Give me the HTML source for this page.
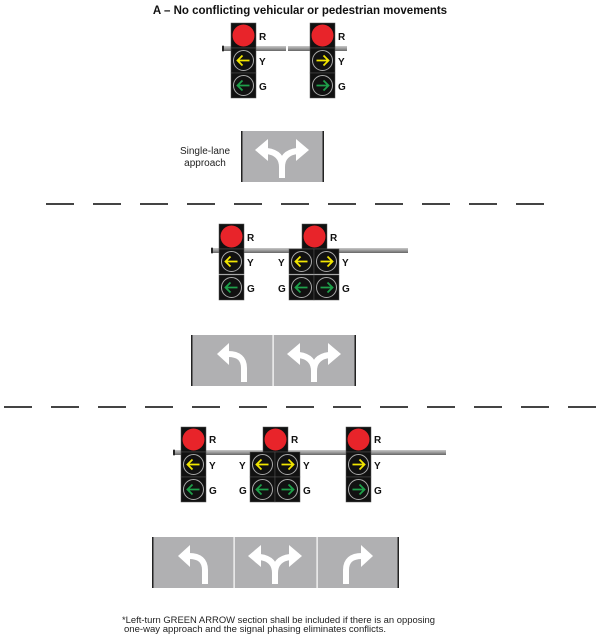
<!DOCTYPE html>
<html><head><meta charset="utf-8"><style>
html,body{margin:0;padding:0;background:#fff;}
svg{display:block;font-family:"Liberation Sans",sans-serif;}
.l{font-size:10px;font-weight:bold;fill:#111;}
</style></head><body>
<svg width="600" height="636" viewBox="0 0 600 636">
<defs>
<linearGradient id="pg" x1="0" y1="0" x2="0" y2="1"><stop offset="0" stop-color="#c8c8c8"/><stop offset="0.5" stop-color="#9a9a9a"/><stop offset="1" stop-color="#666"/></linearGradient>
<g id="red"><rect x="0" y="0" width="25" height="25" fill="#111" stroke="#555" stroke-width="0.5"/><circle cx="12.5" cy="12.5" r="11" fill="#e8242a"/></g>
<g id="yl"><rect x="0" y="0" width="25" height="25" fill="#111" stroke="#555" stroke-width="0.5"/><circle cx="12.5" cy="12.5" r="10" fill="none" stroke="#aaa" stroke-width="1"/><path d="M6.5,12.5 H18.5 M11.5,7.5 L6.5,12.5 L11.5,17.5" fill="none" stroke="#f2e600" stroke-width="1.8"/></g>
<g id="yr"><rect x="0" y="0" width="25" height="25" fill="#111" stroke="#555" stroke-width="0.5"/><circle cx="12.5" cy="12.5" r="10" fill="none" stroke="#aaa" stroke-width="1"/><path d="M18.5,12.5 H6.5 M13.5,7.5 L18.5,12.5 L13.5,17.5" fill="none" stroke="#f2e600" stroke-width="1.8"/></g>
<g id="gl"><rect x="0" y="0" width="25" height="25" fill="#111" stroke="#555" stroke-width="0.5"/><circle cx="12.5" cy="12.5" r="10" fill="none" stroke="#aaa" stroke-width="1"/><path d="M6.5,12.5 H18.5 M11.5,7.5 L6.5,12.5 L11.5,17.5" fill="none" stroke="#1fa04a" stroke-width="1.8"/></g>
<g id="gr"><rect x="0" y="0" width="25" height="25" fill="#111" stroke="#555" stroke-width="0.5"/><circle cx="12.5" cy="12.5" r="10" fill="none" stroke="#aaa" stroke-width="1"/><path d="M18.5,12.5 H6.5 M13.5,7.5 L18.5,12.5 L13.5,17.5" fill="none" stroke="#1fa04a" stroke-width="1.8"/></g>
<g id="aL"><path d="M12,47 V33 Q12,19 -4,19" fill="none" stroke="#fff" stroke-width="6"/><polygon points="-15,19 -3,8 -3,30" fill="#fff"/></g>
<g id="aR"><path d="M-12,47 V33 Q-12,19 4,19" fill="none" stroke="#fff" stroke-width="6"/><polygon points="15,19 3,8 3,30" fill="#fff"/></g>
<g id="aB"><path d="M0,47 V36 Q0,22 -15,20 M0,36 Q0,22 15,20" fill="none" stroke="#fff" stroke-width="6"/><polygon points="-27,19 -14,8 -14,30" fill="#fff"/><polygon points="27,19 14,8 14,30" fill="#fff"/></g>
</defs>

<text x="300" y="14" text-anchor="middle" font-size="11.5" font-weight="bold" fill="#111">A – No conflicting vehicular or pedestrian movements</text>

<!-- Section 1 -->
<rect x="223" y="46" width="63" height="5" fill="url(#pg)"/><rect x="222" y="45.5" width="2" height="6" rx="1" fill="#222"/>
<rect x="288" y="46" width="59" height="5" fill="url(#pg)"/>
<use href="#red" x="231" y="23"/><use href="#yl" x="231" y="48"/><use href="#gl" x="231" y="73"/>
<use href="#red" x="310" y="23"/><use href="#yr" x="310" y="48"/><use href="#gr" x="310" y="73"/>
<text class="l" x="259" y="40">R</text><text class="l" x="259" y="65">Y</text><text class="l" x="259" y="90">G</text>
<text class="l" x="338" y="40">R</text><text class="l" x="338" y="65">Y</text><text class="l" x="338" y="90">G</text>

<text x="205" y="154" text-anchor="middle" font-size="10" fill="#222">Single-lane</text>
<text x="205" y="166" text-anchor="middle" font-size="10" fill="#222">approach</text>
<rect x="241" y="131" width="83" height="51" fill="#b0b0b2"/>
<rect x="241" y="131" width="1.5" height="51" fill="#222"/><rect x="322.5" y="131" width="1.5" height="51" fill="#222"/>
<use href="#aB" x="282" y="131"/>

<!-- dashes 1 -->
<g fill="#444">
<rect x="46" y="203" width="28" height="2"/><rect x="93" y="203" width="28" height="2"/><rect x="140" y="203" width="28" height="2"/><rect x="187" y="203" width="28" height="2"/><rect x="234" y="203" width="28" height="2"/><rect x="281" y="203" width="28" height="2"/><rect x="328" y="203" width="28" height="2"/><rect x="375" y="203" width="28" height="2"/><rect x="422" y="203" width="28" height="2"/><rect x="469" y="203" width="28" height="2"/><rect x="516" y="203" width="28" height="2"/>
</g>

<!-- Section 2 -->
<rect x="212" y="248" width="196" height="5" fill="url(#pg)"/><rect x="211" y="247.5" width="2" height="6" rx="1" fill="#222"/>
<use href="#red" x="219" y="224"/><use href="#yl" x="219" y="249"/><use href="#gl" x="219" y="275"/>
<use href="#red" x="302" y="224"/><use href="#yl" x="289" y="249"/><use href="#yr" x="314" y="249"/><use href="#gl" x="289" y="275"/><use href="#gr" x="314" y="275"/>
<text class="l" x="247" y="241">R</text><text class="l" x="247" y="266">Y</text><text class="l" x="247" y="292">G</text>
<text class="l" x="330" y="241">R</text><text class="l" x="278" y="266">Y</text><text class="l" x="278" y="292">G</text><text class="l" x="342" y="266">Y</text><text class="l" x="342" y="292">G</text>

<rect x="191" y="335" width="165" height="51" fill="#b0b0b2"/>
<rect x="191" y="335" width="1.5" height="51" fill="#222"/><rect x="354.5" y="335" width="1.5" height="51" fill="#222"/>
<rect x="272.5" y="335" width="1.2" height="51" fill="#fff"/>
<use href="#aL" x="232" y="335"/><use href="#aB" x="314" y="335"/>

<!-- dashes 2 -->
<g fill="#444">
<rect x="4" y="406" width="28" height="2"/><rect x="51" y="406" width="28" height="2"/><rect x="98" y="406" width="28" height="2"/><rect x="145" y="406" width="28" height="2"/><rect x="192" y="406" width="28" height="2"/><rect x="239" y="406" width="28" height="2"/><rect x="286" y="406" width="28" height="2"/><rect x="333" y="406" width="28" height="2"/><rect x="380" y="406" width="28" height="2"/><rect x="427" y="406" width="28" height="2"/><rect x="474" y="406" width="28" height="2"/><rect x="521" y="406" width="28" height="2"/><rect x="568" y="406" width="28" height="2"/>
</g>

<!-- Section 3 -->
<rect x="174" y="450" width="272" height="5" fill="url(#pg)"/><rect x="173" y="449.5" width="2" height="6" rx="1" fill="#222"/>
<use href="#red" x="181" y="427"/><use href="#yl" x="181" y="452"/><use href="#gl" x="181" y="477"/>
<use href="#red" x="263" y="427"/><use href="#yl" x="250" y="452"/><use href="#yr" x="275" y="452"/><use href="#gl" x="250" y="477"/><use href="#gr" x="275" y="477"/>
<use href="#red" x="346" y="427"/><use href="#yr" x="346" y="452"/><use href="#gr" x="346" y="477"/>
<text class="l" x="209" y="443">R</text><text class="l" x="209" y="469">Y</text><text class="l" x="209" y="494">G</text>
<text class="l" x="291" y="443">R</text><text class="l" x="239" y="469">Y</text><text class="l" x="239" y="494">G</text><text class="l" x="303" y="469">Y</text><text class="l" x="303" y="494">G</text>
<text class="l" x="374" y="443">R</text><text class="l" x="374" y="469">Y</text><text class="l" x="374" y="494">G</text>

<rect x="152" y="537" width="247" height="51" fill="#b0b0b2"/>
<rect x="152" y="537" width="1.5" height="51" fill="#222"/><rect x="397.5" y="537" width="1.5" height="51" fill="#222"/>
<rect x="233.5" y="537" width="1.2" height="51" fill="#fff"/><rect x="316.5" y="537" width="1.2" height="51" fill="#fff"/>
<use href="#aL" x="193" y="537"/><use href="#aB" x="275" y="537"/><use href="#aR" x="358" y="537"/>

<text x="122" y="623" font-size="9" fill="#222" textLength="313" lengthAdjust="spacingAndGlyphs">*Left-turn GREEN ARROW section shall be included if there is an opposing</text>
<text x="124" y="632" font-size="9" fill="#222" textLength="262" lengthAdjust="spacingAndGlyphs">one-way approach and the signal phasing eliminates conflicts.</text>
</svg>
</body></html>
